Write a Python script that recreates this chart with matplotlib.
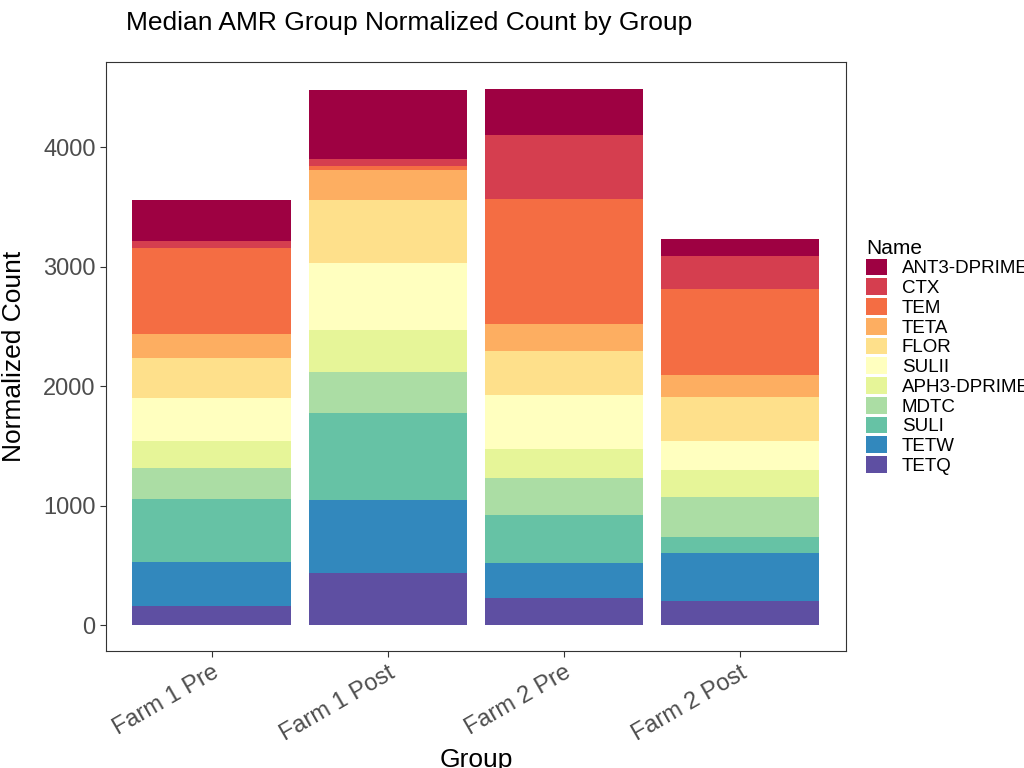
import matplotlib.pyplot as plt
import numpy as np

plt.rcParams['font.family'] = ['Liberation Sans', 'DejaVu Sans']

groups = ["Farm 1 Pre", "Farm 1 Post", "Farm 2 Pre", "Farm 2 Post"]
# bottom to top of the stack
names = ["TETQ", "TETW", "SULI", "MDTC", "APH3-DPRIME", "SULII", "FLOR", "TETA", "TEM", "CTX", "ANT3-DPRIME"]
colors = ["#5E4FA2", "#3288BD", "#66C2A5", "#ABDDA4", "#E6F598", "#FFFFBF",
          "#FEE08B", "#FDAE61", "#F46D43", "#D53E4F", "#9E0142"]
values = {
    "TETQ": [159, 435, 226, 201],
    "TETW": [368, 611, 293, 402],
    "SULI": [527, 728, 402, 133],
    "MDTC": [260, 343, 309, 335],
    "APH3-DPRIME": [226, 352, 243, 226],
    "SULII": [360, 560, 452, 243],
    "FLOR": [334, 527, 368, 368],
    "TETA": [201, 252, 226, 184],
    "TEM": [720, 33, 1046, 720],
    "CTX": [58, 59, 535, 276],
    "ANT3-DPRIME": [343, 577, 385, 142],
}

fig = plt.figure(figsize=(10.24, 7.68), dpi=100)
ax = fig.add_axes([0.1035, 0.152, 0.7225, 0.767])
x = np.arange(len(groups))
bottom = np.zeros(len(groups))
handles = []
for n, c in zip(names, colors):
    v = np.array(values[n], dtype=float)
    h = ax.bar(x, v, 0.9, bottom=bottom, color=c, label=n)
    handles.append(h)
    bottom += v

ax.set_xlim(-0.6, 3.6)
ax.set_ylim(-218, 4711)
ax.set_yticks([0, 1000, 2000, 3000, 4000])
ax.set_xticks(x)
ax.set_xticklabels(groups, rotation=30, ha="right", rotation_mode="anchor", fontsize=17, color="#4D4D4D")
ax.tick_params(axis="y", labelsize=17, labelcolor="#4D4D4D")
ax.tick_params(color="#333333", length=4)
for s in ax.spines.values():
    s.set_color("#333333")
ax.set_xlabel("Group", fontsize=19, labelpad=2)
ax.set_ylabel("Normalized Count", fontsize=19, labelpad=12)
ax.set_title("Median AMR Group Normalized Count by Group", fontsize=19, x=0.41, y=1.04)

leg = ax.legend(handles[::-1], names[::-1], title="Name", loc="center left",
                bbox_to_anchor=(1.01, 0.5), frameon=False, fontsize=13.5,
                title_fontsize=15, handlelength=1.1, handleheight=1.0,
                labelspacing=0.05, borderaxespad=0.3, alignment="left")
fig.savefig("out.png", dpi=100)
